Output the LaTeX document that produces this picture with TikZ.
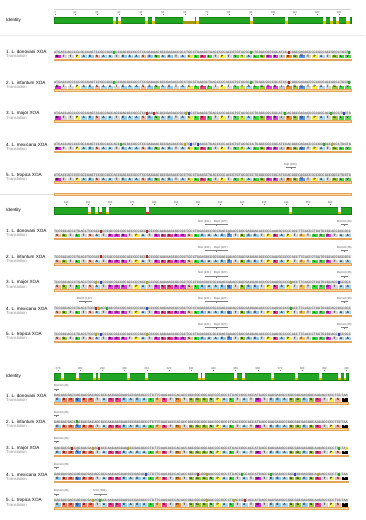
\documentclass[tikz,border=0pt]{standalone}
\usepackage{fontspec}
\setmainfont{Liberation Sans}
\setmonofont{Liberation Mono}
\definecolor{idgreen}{HTML}{22A522}
\definecolor{idedge}{HTML}{178017}
\definecolor{nyel}{HTML}{D8C000}
\definecolor{nred}{HTML}{D03020}
\definecolor{nolive}{HTML}{A89A10}
\definecolor{dnabg}{HTML}{E2E2E2}
\definecolor{orfill}{HTML}{F6D6A4}
\definecolor{oredge}{HTML}{E3A65A}
\definecolor{hg}{HTML}{22B022}
\definecolor{hr}{HTML}{B02828}
\definecolor{hb}{HTML}{3048C8}
\definecolor{ho}{HTML}{B8A820}
\definecolor{hy}{HTML}{E8D830}
\definecolor{aaA}{HTML}{A8D6EE}
\definecolor{aaE}{HTML}{94CCF0}
\definecolor{aaT}{HTML}{D6D6D6}
\definecolor{aaI}{HTML}{C4C4C4}
\definecolor{aaS}{HTML}{F5B5A2}
\definecolor{aaG}{HTML}{9CC83C}
\definecolor{aaL}{HTML}{3CDC3C}
\definecolor{aaV}{HTML}{60D060}
\definecolor{aaN}{HTML}{7CD860}
\definecolor{aaP}{HTML}{F5F050}
\definecolor{aaC}{HTML}{F0E060}
\definecolor{aaY}{HTML}{C8E650}
\definecolor{aaF}{HTML}{F5C060}
\definecolor{aaM}{HTML}{D828D8}
\definecolor{aaR}{HTML}{E040E0}
\definecolor{aaK}{HTML}{F0408C}
\definecolor{aaD}{HTML}{F07A62}
\definecolor{aaQ}{HTML}{5A96F0}
\definecolor{aaH}{HTML}{F09030}
\definecolor{aaX}{HTML}{000000}
\newcommand\cdnA{GCC}\newcommand\cdnC{TGC}\newcommand\cdnD{GAC}\newcommand\cdnE{GAG}
\newcommand\cdnF{TTC}\newcommand\cdnG{GGC}\newcommand\cdnH{CAC}\newcommand\cdnI{ATC}
\newcommand\cdnK{AAG}\newcommand\cdnL{CTG}\newcommand\cdnM{ATG}\newcommand\cdnN{AAC}
\newcommand\cdnP{CCC}\newcommand\cdnQ{CAG}\newcommand\cdnR{CGC}\newcommand\cdnS{TCC}
\newcommand\cdnT{ACC}\newcommand\cdnV{GTG}\newcommand\cdnY{TAC}\newcommand\cdnX{TAA}
\newcommand\aatext[1]{\if#1X{\color{white}*}\else#1\fi}
\newcommand\blkA{M,T,T,P,A,E,S,A,A,T,E,A,A,S,E,N,A,E,T,A,C,L,K,L,T,P,T,V,Y,A,L,G,R,R,I,H,G,Q,T,P,A,T,G,L,V}
\newcommand\blkB{S,G,T,L,T,S,A,T,R,R,R,T,P,A,T,R,K,K,R,R,S,L,E,A,A,E,Q,T,G,E,E,T,P,K,A,P,T,F,T,L,V,R,T,A,A}
\newcommand\blkC{E,D,D,Q,D,D,T,A,K,K,E,A,E,A,L,F,K,T,H,T,G,G,G,N,P,A,L,T,A,T,M,T,E,E,A,G,G,E,G,K,T,P,S,X}
\newcommand\spA{1. L. donovani XOA}
\newcommand\spB{2. L. infantum XOA}
\newcommand\spC{3. L. major XOA}
\newcommand\spD{4. L. mexicana XOA}
\newcommand\spE{5. L. tropica XOA}
\tikzset{
 dnacell/.style={fill=dnabg, inner sep=0pt, minimum height=3.2pt, font=\fontsize{3.5}{3.5}\selectfont\ttfamily, text=black!75},
 aacell/.style={inner sep=0pt, minimum height=4.3pt, draw=white, line width=0.15pt, font=\fontsize{3.2}{3.2}\selectfont\bfseries},
 lab/.style={anchor=west, inner sep=0pt, font=\fontsize{4.6}{4.6}\selectfont},
 trlab/.style={anchor=west, inner sep=0pt, text=black!45, font=\fontsize{4.2}{4.2}\selectfont},
 orbar/.style={fill=orfill, draw=oredge, line width=0.3pt},
 idbar/.style={fill=idgreen, draw=idedge, line width=0.3pt},
 rulenum/.style={inner sep=0pt, font=\fontsize{2.8}{2.8}\selectfont, text=black!70},
 ann/.style={inner sep=0pt, font=\fontsize{2.9}{2.9}\selectfont, text=black!65, anchor=west},
 annline/.style={draw=black!50, line width=0.25pt},
}
% prefix, ytop, codon width, list, label, xend
\newcommand\seqrow[6]{%
  \foreach \a [count=\i] in #4 {
    \pgfmathsetmacro\xc{54+(\i-0.5)*#3}
    \node[dnacell, minimum width=#3 pt] (#1d\i) at (\xc, #2+1.6) {\csname cdn\a\endcsname};
    \node[aacell, fill=aa\a, minimum width=#3 pt] (#1t\i) at (\xc, #2+5.65) {\aatext{\a}};
  }
  \draw[orbar] (54,#2+8.3) rectangle (#6,#2+9.8);
  \node[lab] (#1L) at (6,#2+1.8) {#5};
  \node[trlab] (#1T) at (6,#2+5.9) {Translation};
}
\newcommand\hl[3]{\fill[#3] ({#1-1.1},#2) rectangle ({#1+1.1},#2+3.2);}
\newcommand\notch[4]{%
  \fill[white] (#1,#3-0.3) rectangle ({#1+#2},#3+4.4);
  \fill[#4] (#1,#3+4.4) rectangle ({#1+#2},#3+6.5);
}
% name, x, y, text, x1, x2
\newcommand\annot[6]{%
  \node[ann] (#1) at (#2,#3) {#4};
  \draw[annline] (#5,#3+2.8) -- (#6,#3+2.8);
  \draw[annline] ({(#5+#6)/2},#3+2.8) -- ({(#5+#6)/2},#3+4.6);
}
\begin{document}
\begin{tikzpicture}[x=1pt,y=-1pt]
\useasboundingbox (0,0) rectangle (365,520);
\fill[white] (0,0) rectangle (365,520);

% ---------------- block 1 ----------------
\draw[black!18, line width=0.4pt] (54,9.5) -- (351,9.5);
\foreach \n in {1,10,20,30,40,50,60,70,80,90,100,110,120,130} {
  \node[rulenum] (ra\n) at ({54+(\n-0.5)*2.2},12.3) {\n};
  \draw[annline] (ra\n.south) ++(0,0.4) -- ++(0,1.3);
}
\draw[idbar] (54,17) rectangle (351,23.5);
\foreach \x/\w/\c in {113/3/nyel,118/3/nyel,145/3/nyel,152/3/nyel,183/12/nolive,196/2.5/nyel,250/3/nyel,285/3/nyel,323/3/nyel,330/2.5/nyel,336/3/nyel,346/4/nyel}
  {\notch{\x}{\w}{17}{\c}}
\node[lab] (ida) at (6,20.3) {Identity};
\draw[black!8, line width=0.4pt] (0,35.5) -- (365,35.5);

\seqrow{a1}{50.5}{6.6}{\blkA}{\spA}{351}
\seqrow{a2}{81.2}{6.6}{\blkA}{\spB}{351}
\seqrow{a3}{111.9}{6.6}{\blkA}{\spC}{351}
\seqrow{a4}{142.6}{6.6}{\blkA}{\spD}{351}
\seqrow{a5}{173.3}{6.6}{\blkA}{\spE}{351}
\foreach \x/\c in {114/hg,251/hg,289/hr,349/hg} {\hl{\x}{50.5}{\c}\hl{\x}{81.2}{\c}}
\foreach \x/\c in {147/hr,154/hr,186/ho,189/hb,285/hg,331/hg,344/hb} {\hl{\x}{111.9}{\c}}
\foreach \x/\c in {121/hg,185/ho,191/hb,198/hb,324/hg,332/ho} {\hl{\x}{142.6}{\c}}
\annot{a5s1}{284}{164.5}{SalI (105)}{286}{296}

\draw[black!12, line width=0.5pt] (0,194.3) -- (54,194.3);
\draw[orbar] (54,193.5) rectangle (351,195.2);

% ---------------- block 2 ----------------
\foreach \n in {140,150,160,170,180,190,200,210,220,230,240,250,260} {
  \node[rulenum] (rb\n) at ({54+(\n-134.5)*2.2},202.5) {\n};
  \draw[annline] (rb\n.south) ++(0,0.4) -- ++(0,1.3);
}
\draw[idbar] (54,207.5) rectangle (351,214);
\foreach \x/\w/\c in {88/3/nyel,95/2.5/nyel,99/3/nred,106/2.5/nyel,146/3/nred,289/3/nyel,338/3/nyel}
  {\notch{\x}{\w}{207.5}{\c}}
\node[lab] (idb) at (6,210.8) {Identity};

\seqrow{b1}{229.5}{6.6}{\blkB}{\spA}{351}
\seqrow{b2}{255.25}{6.6}{\blkB}{\spB}{351}
\seqrow{b3}{281}{6.6}{\blkB}{\spC}{351}
\seqrow{b4}{306.75}{6.6}{\blkB}{\spD}{351}
\seqrow{b5}{332.5}{6.6}{\blkB}{\spE}{351}
\foreach \x/\c in {101/hr,147/hr} {\hl{\x}{229.5}{\c}\hl{\x}{255.25}{\c}}
\foreach \x/\c in {96/ho,101/hb,147/ho,291/ho,339/hb} {\hl{\x}{281}{\c}}
\foreach \x/\c in {96/hr,99/ho,107/hg,147/hb,291/hg} {\hl{\x}{306.75}{\c}}
\foreach \x/\c in {96/ho,101/hb,147/ho,339/hb} {\hl{\x}{332.5}{\c}}
\foreach \y [count=\k] in {229.5,255.25,281,306.75,332.5} {
  \annot{bn\k}{198}{\y-8}{NsiI (221)}{205}{228}
  \node[ann] (bb\k) at (214,\y-8) {BspI (227)};
  \annot{bs\k}{337}{\y-8}{BsmAI (26)}{341}{348}
}
\annot{b4r}{77}{298.75}{BsrDI (197)}{79}{92}

% ---------------- block 3 ----------------
\foreach \n [count=\k from 0] in {270,280,290,300,310,320,330,340,350,360,370,380,390,400} {
  \node[rulenum] (rc\n) at ({58+\k*22.2},368.5) {\n};
  \draw[annline] (rc\n.south) ++(0,0.4) -- ++(0,1.3);
}
\draw[idbar] (54,373.5) rectangle (348,380);
\foreach \x in {61,76,93,97.5,127,145,198,202,242,271,295,319,338,343.5}
  {\notch{\x}{2.5}{373.5}{nyel}}
\notch{234}{3}{373.5}{nyel}
\node[lab] (idc) at (6,376.8) {Identity};

\seqrow{c1}{394}{6.68}{\blkC}{\spA}{348}
\seqrow{c2}{420.25}{6.68}{\blkC}{\spB}{348}
\seqrow{c3}{446.5}{6.68}{\blkC}{\spC}{348}
\seqrow{c4}{472.75}{6.68}{\blkC}{\spD}{348}
\seqrow{c5}{499}{6.68}{\blkC}{\spE}{348}
\hl{77}{420.25}{hg}
\foreach \x/\c in {72/hr,93/ho,99/hr,128/ho,339/hg,346/hy} {\hl{\x}{446.5}{\c}}
\foreach \x/\c in {146/hb,198/hr,207/ho,242/hg,271/hg,295/hb,318/ho,339/hg} {\hl{\x}{472.75}{\c}}
\foreach \x/\c in {93/ho,100/hg,207/ho,234/ho,245/hr} {\hl{\x}{499}{\c}}
\foreach \y [count=\k] in {394,420.25,446.5,472.75,499} {
  \annot{cs\k}{54}{\y-8}{BsmAI (26)}{54}{59}
}
\annot{c5m}{93}{491}{SmlI (303)}{94}{107}
\end{tikzpicture}
\end{document}
